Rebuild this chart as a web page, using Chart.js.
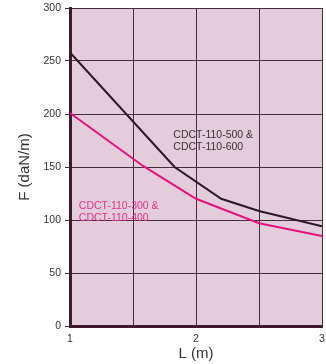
<!DOCTYPE html>
<html>
<head>
<meta charset="utf-8">
<script src="https://cdn.jsdelivr.net/npm/chart.js@4"></script>
<style>
  html, body { margin: 0; padding: 0; background: #fff; }
  canvas { display: block; }
</style>
</head>
<body>
<canvas id="forceChart" width="326" height="364"></canvas>
<script>
// --- data ---
const darkL = [1, 1.83, 2.2, 2.5, 3];
const darkF = [258, 150, 120, 108.5, 94];
const pinkL = [1, 1.58, 2, 2.5, 3];
const pinkF = [201, 151, 120, 97, 85];

const xTickLabels = ['1', '2', '3'];
const yTicks = [0, 50, 100, 150, 200, 250, 300];

// series names, anchored in data units (L, F)
const noteDark = ['CDCT-110-500 &', 'CDCT-110-600'];
const notePink = ['CDCT-110-300 &', 'CDCT-110-400'];
const noteDarkAt = [1.82, 180];
const notePinkAt = [1.07, 113];

const plotBg = 'rgb(227, 205, 218)';
const gridCol = 'rgb(72, 46, 60)';
const axisCol = 'rgb(66, 26, 44)';
const darkCol = '#2a1822';
const pinkCol = '#e3127e';

const toPoints = (xs, ys) => xs.map((x, i) => ({ x: x, y: ys[i] }));

// fill plot area + write series notes
const plotDecor = {
    id: 'plotDecor',
    beforeDraw(chart) {
        const { ctx, chartArea: a } = chart;
        ctx.save();
        ctx.fillStyle = plotBg;
        ctx.fillRect(a.left, a.top, a.right - a.left, a.bottom - a.top);
        ctx.restore();
    },
    afterDatasetsDraw(chart) {
        const { ctx, scales } = chart;
        const put = (lines, at, color) => {
            const x = scales.x.getPixelForValue(at[0]);
            const y = scales.y.getPixelForValue(at[1]);
            ctx.fillStyle = color;
            lines.forEach((t, i) => ctx.fillText(t, x, y + i * 12));
        };
        ctx.save();
        ctx.font = '10.5px "Liberation Sans", Arial, sans-serif';
        ctx.textAlign = 'left';
        ctx.textBaseline = 'middle';
        put(noteDark, noteDarkAt, '#3a3035');
        put(notePink, notePinkAt, '#e0308c');
        ctx.restore();
    }
};

new Chart(document.getElementById('forceChart'), {
    type: 'line',
    data: {
        datasets: [
            {
                data: toPoints(darkL, darkF),
                borderColor: darkCol,
                borderWidth: 2,
                pointRadius: 0,
                tension: 0
            },
            {
                data: toPoints(pinkL, pinkF),
                borderColor: pinkCol,
                borderWidth: 2,
                pointRadius: 0,
                tension: 0
            }
        ]
    },
    options: {
        responsive: false,
        animation: false,
        layout: { padding: { top: 8, right: 4, left: 0, bottom: 0 } },
        plugins: { legend: { display: false }, tooltip: { enabled: false } },
        font: { family: '"Liberation Sans", Arial, sans-serif' },
        scales: {
            x: {
                type: 'linear',
                min: 1,
                max: 3,
                afterFit: s => { s.height = 38; s.paddingLeft = 0; s.paddingRight = 0; },
                ticks: {
                    stepSize: 0.5,
                    autoSkip: false,
                    maxRotation: 0,
                    padding: 7,
                    color: '#333',
                    font: { size: 10.5, family: '"Liberation Sans", Arial, sans-serif' },
                    callback: v => Number.isInteger(v) ? xTickLabels[v - 1] : ''
                },
                grid: { color: gridCol, lineWidth: 1, drawTicks: false },
                border: { color: axisCol, width: 3 },
                title: {
                    display: true,
                    text: 'L (m)',
                    color: '#333',
                    padding: { top: 0, bottom: 1 },
                    font: { size: 15, family: '"Liberation Sans", Arial, sans-serif' }
                }
            },
            y: {
                min: 0,
                max: 300,
                afterFit: s => { s.width = 70; s.paddingTop = 0; s.paddingBottom = 0; },
                afterBuildTicks: s => { s.ticks = yTicks.map(v => ({ value: v })); },
                ticks: {
                    padding: 4,
                    color: '#333',
                    font: { size: 10.5, family: '"Liberation Sans", Arial, sans-serif' }
                },
                grid: { color: gridCol, lineWidth: 1, tickLength: 5 },
                border: { color: axisCol, width: 3 },
                title: {
                    display: true,
                    text: 'F (daN/m)',
                    color: '#333',
                    padding: { top: 16, bottom: 0 },
                    font: { size: 15, family: '"Liberation Sans", Arial, sans-serif' }
                }
            }
        }
    },
    plugins: [plotDecor]
});
</script>
</body>
</html>
